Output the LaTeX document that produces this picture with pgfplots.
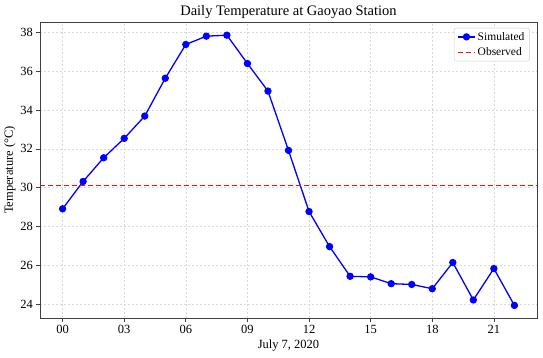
\documentclass[border=0pt]{standalone}
\usepackage{fontspec}
\setmainfont{Liberation Serif}
\usepackage{xcolor}
\definecolor{obsred}{rgb}{0.93,0.05,0.05}
\definecolor{simblue}{RGB}{0,0,255}
\usepackage{pgfplots}
\pgfplotsset{compat=1.18}
\begin{document}
\begin{tikzpicture}
\useasboundingbox (-40pt,-39pt) rectangle (503pt,318pt);
\begin{axis}[
  at={(0,0)}, anchor=south west,
  scale only axis, width=497pt, height=296pt,
  xmin=-1.1, xmax=23.1, ymin=23.28, ymax=38.54,
  xtick={0,3,6,9,12,15,18,21},
  xticklabels={00,03,06,09,12,15,18,21},
  ytick={24,26,28,30,32,34,36,38},
  /pgf/number format/assume math mode=true,
  tick label style={font=\fontsize{12.5}{14}\selectfont},
  tick align=outside, tick pos=left,
  major tick length=3.5pt,
  axis line style={draw=black!75, line width=0.8pt},
  major tick style={draw=black!75, line width=0.7pt},
  grid=major,
  major grid style={draw=gray!30, line width=0.5pt, dash pattern=on 2pt off 2pt},
  title={Daily Temperature at Gaoyao Station},
  title style={font=\fontsize{14.5}{16}\selectfont, yshift=-6pt},
  xlabel={July 7, 2020},
  ylabel={Temperature (°C)},
  label style={font=\fontsize{12.5}{14}\selectfont},
  xlabel style={yshift=1pt},
  ylabel style={yshift=-2pt},
  legend style={font=\fontsize{11.5}{13}\selectfont, draw=gray!40, rounded corners=2pt, fill=white, at={(0.985,0.98)}, anchor=north east, row sep=2pt},
  legend cell align=left,
]
\addplot[simblue, line width=1.3pt, mark=*, mark size=3pt, mark options={fill=simblue, draw=simblue, solid}] coordinates {
(0,28.91) (1,30.32) (2,31.54) (3,32.54) (4,33.69) (5,35.64) (6,37.38) (7,37.81) (8,37.86) (9,36.40) (10,34.98) (11,31.92) (12,28.77) (13,26.96) (14,25.43) (15,25.40) (16,25.05) (17,25.01) (18,24.79) (19,26.14) (20,24.21) (21,25.83) (22,23.93)
};
\addlegendentry{Simulated}
\addplot[obsred, line width=1.4pt, dash pattern=on 5pt off 3pt, mark=none] coordinates {(-1.1,30.10) (23.1,30.10)};
\addlegendentry{Observed}
\end{axis}
\end{tikzpicture}
\end{document}
